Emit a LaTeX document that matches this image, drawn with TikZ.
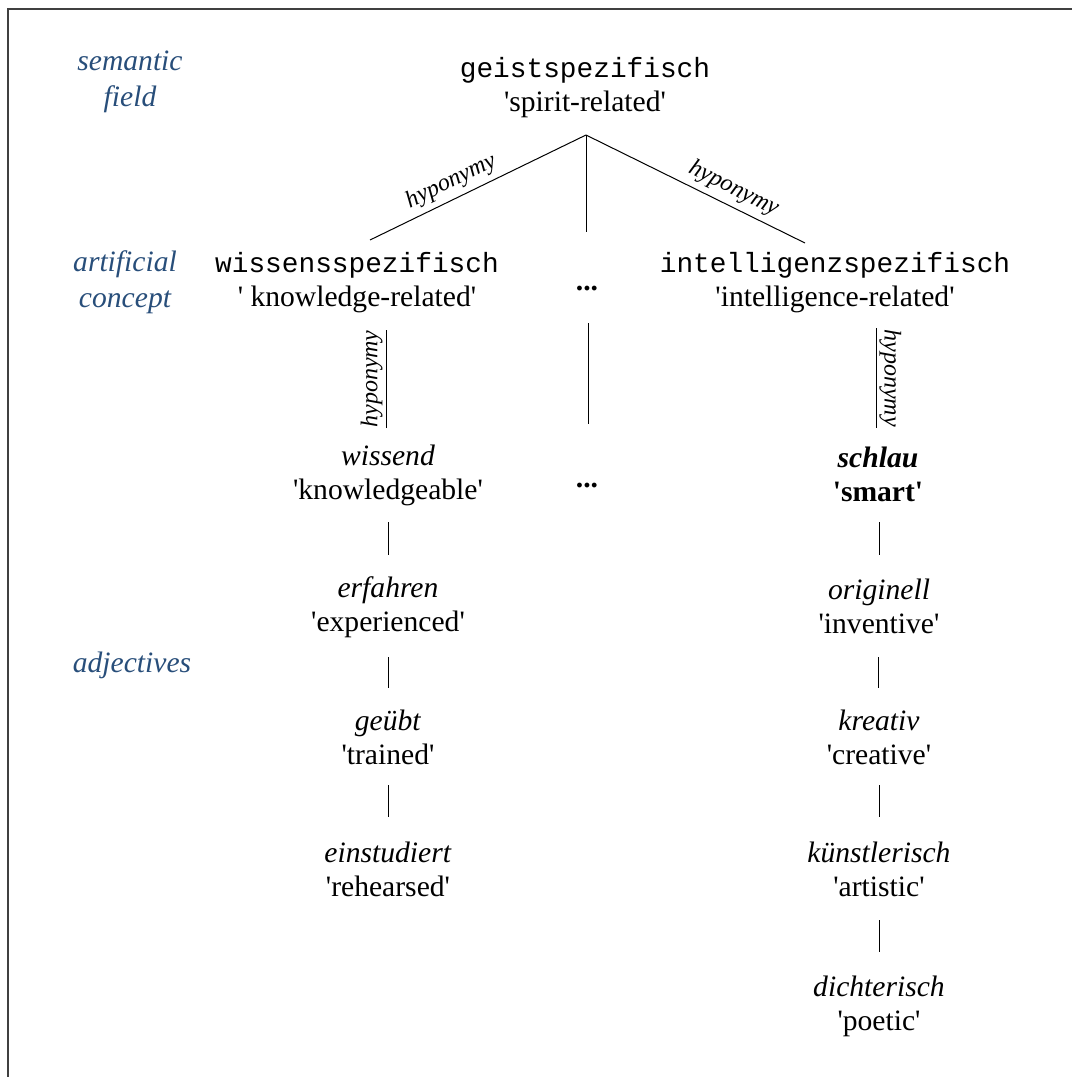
\documentclass[tikz,border=0pt]{standalone}
\usepackage{fontspec}
\setmainfont{Liberation Serif}
\setmonofont{Liberation Mono}
\usetikzlibrary{calc}
\definecolor{lblblue}{RGB}{40,78,122}
\newcommand\mono[1]{{\fontsize{13.9}{17}\selectfont\ttfamily #1}}
\newcommand\q{\textquotesingle}
\begin{document}
\begin{tikzpicture}[x=0.5pt,y=-0.5pt,
  word/.style={align=center, inner sep=0pt, font=\fontsize{14.8}{17}\selectfont},
  fieldlabel/.style={align=center, inner sep=0pt, text=lblblue, font=\fontsize{14.8}{18}\selectfont\itshape},
  rel/.style={line width=0.5pt},
  hyp/.style={font=\fontsize{12}{14}\selectfont\itshape, inner sep=1.5pt},
  hypd/.style={hyp, inner sep=2.8pt},
  frameline/.style={line width=0.8pt, black!75}]
\useasboundingbox (0,0) rectangle (1072,1077);
\draw[frameline] (8,1077) -- (8,9) -- (1072,9);

% level labels
\node[fieldlabel] (lsem) at (130,82) {semantic\\field};
\node[fieldlabel] (lart) at (125,282) {artificial\\concept};
\node[fieldlabel] (ladj) at (132,665) {adjectives};

% nodes
\node[word] (geist) at (585,88) {\mono{geistspezifisch}\\\q spirit-related\q};
\node[word] (wissens) at (357,283) {\mono{wissensspezifisch}\\\q\ knowledge-related\q};
\node[word] (intell) at (835,283) {\mono{intelligenzspezifisch}\\\q intelligence-related\q};
\node[word] (dotsA) at (587,289) {\textbf{...}};
\node[word] (wissend) at (388,475) {\textit{wissend}\\\q knowledgeable\q};
\node[word] (dotsB) at (587,486) {\textbf{...}};
\node[word] (schlau) at (878,474) {\textbf{\textit{schlau}}\\\textbf{\q smart\q}};
\node[word] (erfahren) at (388,607) {\textit{erfahren}\\\q experienced\q};
\node[word] (originell) at (879,606) {\textit{originell}\\\q inventive\q};
\node[word] (geuebt) at (388,737) {\textit{geübt}\\\q trained\q};
\node[word] (kreativ) at (879,737) {\textit{kreativ}\\\q creative\q};
\node[word] (einstudiert) at (388,869) {\textit{einstudiert}\\\q rehearsed\q};
\node[word] (kuenst) at (879,869) {\textit{künstlerisch}\\\q artistic\q};
\node[word] (dichter) at (879,1006) {\textit{dichterisch}\\\q poetic\q};

% connectors from top node
\draw[rel] ($(wissens.center)+(13,-43)$) -- node[hypd, pos=0.41, sloped, above] {hyponymy} ($(geist.center)+(1,47)$);
\draw[rel] ($(geist.center)+(1,47)$) -- ($(dotsA.center)+(-1,-57)$);
\draw[rel] ($(geist.center)+(1,47)$) -- node[hypd, pos=0.64, sloped, above] {hyponymy} ($(intell.center)+(-30,-40)$);

% second level
\draw[rel] ($(wissend.center)+(-2,-47)$) -- node[hyp, midway, rotate=90, anchor=south] {hyponymy} ($(wissens.center)+(29,47)$);
\draw[rel] ($(dotsA.center)+(1,34)$) -- ($(dotsB.center)+(1,-62)$);
\draw[rel] ($(intell.center)+(41,45)$) -- node[hyp, midway, rotate=-90, anchor=south] {hyponymy} ($(schlau.center)+(-2,-46)$);

% adjective chains
\draw[rel] ($(wissend.center)+(0,47)$) -- ($(erfahren.center)+(0,-52)$);
\draw[rel] ($(erfahren.center)+(0,50)$) -- ($(geuebt.center)+(0,-49)$);
\draw[rel] ($(geuebt.center)+(0,48)$) -- ($(einstudiert.center)+(0,-52)$);
\draw[rel] ($(schlau.center)+(1,48)$) -- ($(originell.center)+(0,-51)$);
\draw[rel] ($(originell.center)+(-1,51)$) -- ($(kreativ.center)+(-1,-49)$);
\draw[rel] ($(kreativ.center)+(0,48)$) -- ($(kuenst.center)+(0,-52)$);
\draw[rel] ($(kuenst.center)+(0,51)$) -- ($(dichter.center)+(0,-54)$);
\end{tikzpicture}
\end{document}
